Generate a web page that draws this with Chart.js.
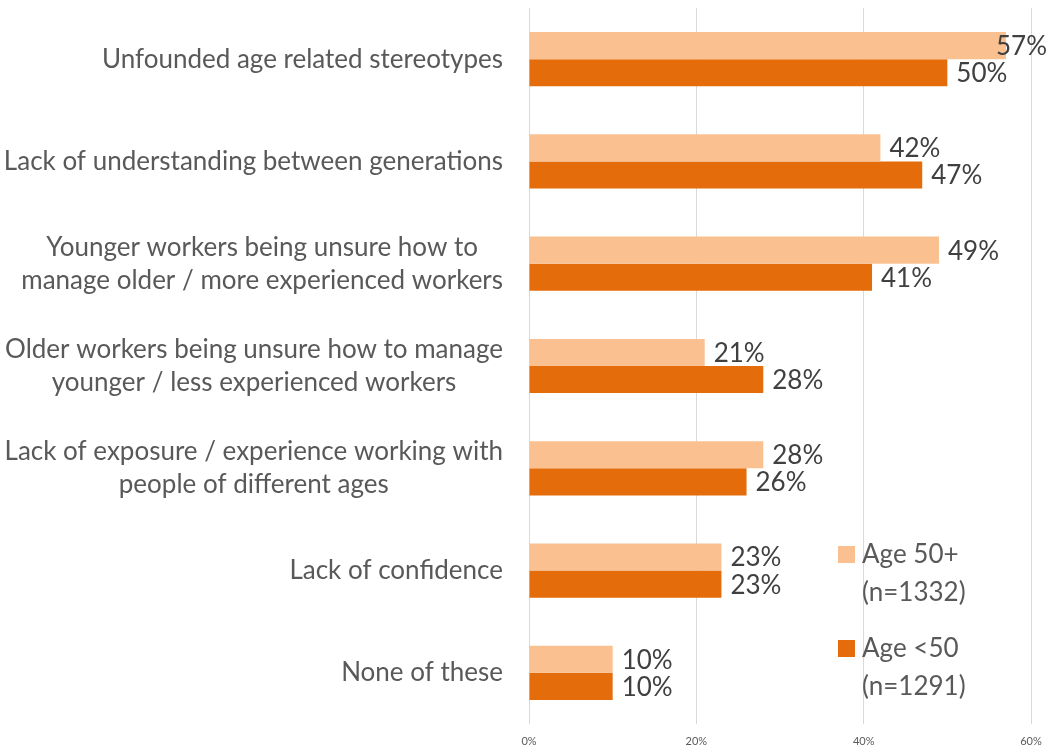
<!DOCTYPE html>
<html>
<head>
<meta charset="utf-8">
<script src="https://cdn.jsdelivr.net/npm/chart.js@4/dist/chart.umd.min.js"></script>
<style>
  html, body { margin: 0; padding: 0; background: #fff; }
  #wrap { width: 1050px; height: 749px; }
</style>
</head>
<body>
<div id="wrap"><canvas id="chart" width="1050" height="749"></canvas></div>
<script>
// categories (multi-line ones split into lines)
var categories = [
    ['Unfounded age related stereotypes'],
    ['Lack of understanding between generations'],
    ['Younger workers being unsure how to', 'manage older / more experienced workers'],
    ['Older workers being unsure how to manage', 'younger / less experienced workers'],
    ['Lack of exposure / experience working with', 'people of different ages'],
    ['Lack of confidence'],
    ['None of these']
];
var age50plus = [57, 42, 49, 21, 28, 23, 10];
var ageUnder50 = [50, 47, 41, 28, 26, 23, 10];
var seriesNames = [['Age 50+', '(n=1332)'], ['Age <50', '(n=1291)']];
var xTicks = [0, 20, 40, 60];

var FONT = 'Lato, "Open Sans", sans-serif';
var lightOrange = '#FAC090';
var darkOrange = '#E46C0A';

// category labels: block right aligned against the axis, lines centred inside it
var categoryLabels = {
    id: 'categoryLabels',
    afterDraw: function(chart) {
        var ctx = chart.ctx;
        var yScale = chart.scales.y;
        var right = chart.chartArea.left - 26;
        var lineH = 33;
        ctx.save();
        ctx.font = '26px ' + FONT;
        ctx.fillStyle = '#595959';
        ctx.textAlign = 'center';
        ctx.textBaseline = 'middle';
        categories.forEach(function(lines, i) {
            var w = 0;
            lines.forEach(function(l) { w = Math.max(w, ctx.measureText(l).width); });
            var cx = right - w / 2;
            var cy = yScale.getPixelForValue(i);
            var top = cy - (lines.length - 1) * lineH / 2;
            lines.forEach(function(l, j) { ctx.fillText(l, cx, top + j * lineH); });
        });
        ctx.restore();
    }
};

// value labels at the end of each bar, pulled back if they would run off the canvas
var valueLabels = {
    id: 'valueLabels',
    afterDatasetsDraw: function(chart) {
        var ctx = chart.ctx;
        var maxRight = chart.width - 3;
        ctx.save();
        ctx.font = '26px ' + FONT;
        ctx.fillStyle = '#404040';
        ctx.textAlign = 'left';
        ctx.textBaseline = 'middle';
        chart.data.datasets.forEach(function(ds, di) {
            chart.getDatasetMeta(di).data.forEach(function(bar, i) {
                var txt = ds.data[i] + '%';
                var x = Math.min(bar.x + 9, maxRight - ctx.measureText(txt).width);
                ctx.fillText(txt, x, bar.y + 1);
            });
        });
        ctx.restore();
    }
};

// legend sitting inside the plot, bottom right
var boxLegend = {
    id: 'boxLegend',
    afterDraw: function(chart) {
        var ctx = chart.ctx;
        var x = 838, y0 = 555, gap = 94, lineH = 38;
        ctx.save();
        ctx.font = '26px ' + FONT;
        ctx.textBaseline = 'middle';
        chart.data.datasets.forEach(function(ds, di) {
            var y = y0 + di * gap;
            ctx.fillStyle = ds.backgroundColor;
            ctx.fillRect(x, y - 9, 17, 17);
            ctx.fillStyle = '#595959';
            seriesNames[di].forEach(function(t, j) {
                ctx.fillText(t, x + 24, y + j * lineH);
            });
        });
        ctx.restore();
    }
};

var chart = new Chart(document.getElementById('chart'), {
    type: 'bar',
    data: {
        labels: categories.map(function(c) { return c.join(' '); }),
        datasets: [{
            label: seriesNames[0].join(' '),
            data: age50plus,
            backgroundColor: lightOrange,
            categoryPercentage: 0.53,
            barPercentage: 1.0
        }, {
            label: seriesNames[1].join(' '),
            data: ageUnder50,
            backgroundColor: darkOrange,
            categoryPercentage: 0.53,
            barPercentage: 1.0
        }]
    },
    options: {
        indexAxis: 'y',
        responsive: false,
        animation: false,
        layout: { padding: { left: 529, right: 19, top: 8, bottom: 0 } },
        plugins: {
            legend: { display: false },
            tooltip: { enabled: false }
        },
        scales: {
            x: {
                min: 0,
                max: 60,
                afterBuildTicks: function(scale) {
                    scale.ticks = xTicks.map(function(v) { return { value: v }; });
                },
                afterFit: function(scale) {
                    scale.height = 25;
                    // tick label overflow is already covered by the layout padding
                    scale.paddingLeft = 0;
                    scale.paddingRight = 0;
                },
                grid: { color: '#D9D9D9', drawTicks: false },
                border: { display: false },
                ticks: {
                    padding: 11,
                    color: '#595959',
                    font: { family: FONT, size: 11 },
                    callback: function(v) { return v + '%'; }
                }
            },
            y: {
                afterFit: function(scale) { scale.width = 0; },
                grid: { display: false },
                border: { display: false },
                ticks: { display: false }
            }
        }
    },
    plugins: [categoryLabels, valueLabels, boxLegend]
});
</script>
</body>
</html>
